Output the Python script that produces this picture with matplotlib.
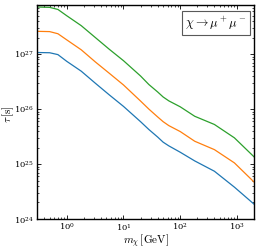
import numpy as np
import matplotlib
matplotlib.use('Agg')
import matplotlib.pyplot as plt

plt.rc('mathtext', fontset='cm')
plt.rc('font', family='serif', serif=['DejaVu Serif'])
plt.rc('xtick', labelsize=6, direction='in', top=True)
plt.rc('ytick', labelsize=6, direction='in', right=True)

# DM mass [GeV]
mass = [0.3, 0.5, 0.7, 1.0, 1.8, 3.2, 5.6, 10, 20, 28, 40, 50, 63, 100, 180, 400, 900, 2000]

# lifetime limits [s]
tau_blue = [1.07e27, 1.06e27, 9.8e26, 7.4e26, 4.9e26, 2.95e26, 1.82e26, 1.12e26,
            5.9e25, 4.25e25, 3.1e25, 2.5e25, 2.14e25, 1.64e25, 1.14e25, 7.4e24,
            3.8e24, 1.86e24]
tau_orange = [2.6e27, 2.57e27, 2.35e27, 1.82e27, 1.2e27, 7.2e26, 4.5e26, 2.75e26,
              1.4e26, 1.0e26, 7.2e25, 5.9e25, 5.0e25, 3.9e25, 2.6e25, 1.83e25,
              1.05e25, 4.7e24]
tau_green = [7.2e27, 7.1e27, 6.5e27, 5.0e27, 3.3e27, 2.0e27, 1.23e27, 7.6e26,
             4.0e26, 2.8e26, 2.05e26, 1.66e26, 1.41e26, 1.1e26, 7.4e25, 5.25e25,
             3.0e25, 1.35e25]

fig = plt.figure(figsize=(2.59, 2.50), dpi=100)
ax = fig.add_axes([0.143, 0.124, 0.838, 0.858])

ax.plot(mass, tau_blue, color='C0', lw=0.9)
ax.plot(mass, tau_orange, color='C1', lw=0.9)
ax.plot(mass, tau_green, color='C2', lw=0.9)

ax.set_xscale('log')
ax.set_yscale('log')
ax.set_xlim(0.3, 2000)
ax.set_ylim(1e24, 8e27)

ax.tick_params(which='both', direction='in', top=True, right=True)
ax.tick_params(which='major', length=3, width=0.6, pad=2)
ax.tick_params(which='minor', length=1.5, width=0.5)
for s in ax.spines.values():
    s.set_linewidth(1.0)

ax.set_xlabel(r'$m_\chi\,[\mathrm{GeV}]$', fontsize=8)
ax.set_ylabel(r'$\tau\,[\mathrm{s}]$', fontsize=8)
ax.xaxis.set_label_coords(0.5, -0.062)
ax.yaxis.set_label_coords(-0.097, 0.49)

ax.text(0.965, 0.955, r'$\chi \rightarrow \mu^+\mu^-$', transform=ax.transAxes,
        ha='right', va='top', fontsize=9,
        bbox=dict(boxstyle='square,pad=0.25', facecolor='white', edgecolor='0.35', lw=0.8))

fig.savefig('out.png', dpi=100)
